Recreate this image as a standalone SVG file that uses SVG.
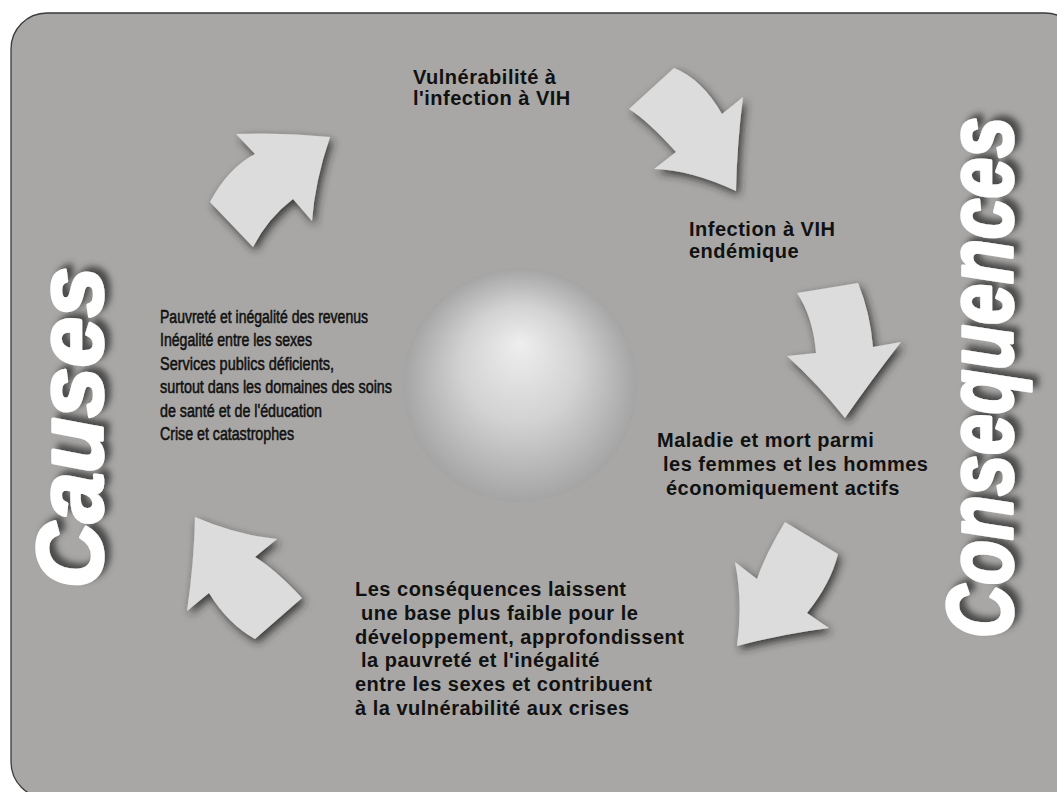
<svg xmlns="http://www.w3.org/2000/svg" width="1057" height="792" viewBox="0 0 1057 792">
  <defs>
    <style>
      .lbl { font-family: "Liberation Sans", Arial, sans-serif; font-weight: bold; font-size: 20px; letter-spacing: 0.5px; fill: #111; }
      .cause { font-family: "Liberation Sans", Arial, sans-serif; font-size: 18px; fill: #111; stroke: #111; stroke-width: 0.55px; }
      .big { font-family: "Liberation Sans", Arial, sans-serif; font-weight: bold; font-style: italic; font-size: 80px; fill: #ffffff; stroke: #ffffff; stroke-width: 3px; stroke-linejoin: round; }
      .arrow { fill: #dcdcdc; }
    </style>
    <filter id="arrowShadow" x="-30%" y="-30%" width="160%" height="160%">
      <feGaussianBlur in="SourceAlpha" stdDeviation="4.5"/>
      <feOffset dx="3" dy="4" result="b"/>
      <feFlood flood-color="#252525" flood-opacity="0.85"/>
      <feComposite in2="b" operator="in"/>
      <feMerge><feMergeNode/><feMergeNode in="SourceGraphic"/></feMerge>
    </filter>
    <filter id="textShadow" x="-30%" y="-10%" width="160%" height="120%">
      <feGaussianBlur in="SourceAlpha" stdDeviation="3"/>
      <feOffset dx="6" dy="-5" result="b"/>
      <feFlood flood-color="#3a3a3a" flood-opacity="0.85"/>
      <feComposite in2="b" operator="in"/>
      <feMerge><feMergeNode/><feMergeNode in="SourceGraphic"/></feMerge>
    </filter>
    <radialGradient id="sphereGrad" cx="0.5" cy="0.5" r="0.5" fx="0.5" fy="0.32">
      <stop offset="0" stop-color="#eeeeee"/>
      <stop offset="0.5" stop-color="#d2d2d2"/>
      <stop offset="1" stop-color="#a4a4a4"/>
    </radialGradient>
  </defs>

  <rect id="background" x="11" y="13" width="1070" height="785" rx="36" ry="36" fill="#a8a7a5" stroke="#3a3a3a" stroke-width="1.3"/>

  <g id="sphere">
    <circle cx="520" cy="385" r="117" fill="url(#sphereGrad)"/>
  </g>

  <g id="connectors" filter="url(#arrowShadow)">
    <path id="arrow1" class="arrow" d="M330,137 Q315,181 312,221 L293,199 Q268,218 253,247 L210,202 Q228,168 255,154 L236,134 Q283,132 330,137 Z"/>
    <path id="arrow2" class="arrow" d="M674,68 Q702,79 722,114 L743,97 Q737,144 736,191 Q691,170 654,169 L676,152 Q647,120 629,109 Z"/>
    <path id="arrow3" class="arrow" d="M797,293 L858,283 Q870,312 873,347 L901,342 Q870,382 845,418 Q818,384 787,356 L816,353 Q813,317 797,293 Z"/>
    <path id="arrow4" class="arrow" d="M785,522 L838,554 Q831,583 807,613 L829,628 Q783,634 737,646 Q743,603 735,562 L757,579 Q766,553 785,522 Z"/>
    <path id="arrow5" class="arrow" d="M195,517 Q237,535 277,539 L255,557 Q275,569 302,598 L255,639 Q228,624 209,593 L187,611 Q194,563 195,517 Z"/>
  </g>

  <g id="node-vulnerabilite">
    <text class="lbl" x="413" y="84">Vulnérabilité à</text>
    <text class="lbl" x="413" y="105">l'infection à VIH</text>
  </g>

  <g id="node-infection">
    <text class="lbl" x="689" y="236">Infection à VIH</text>
    <text class="lbl" x="689" y="258">endémique</text>
  </g>

  <g id="node-maladie">
    <text class="lbl" x="657" y="447">Maladie et mort parmi</text>
    <text class="lbl" x="663" y="471">les femmes et les hommes</text>
    <text class="lbl" x="666" y="495">économiquement actifs</text>
  </g>

  <g id="node-consequences-text">
    <text class="lbl" x="355" y="596">Les conséquences laissent</text>
    <text class="lbl" x="361" y="620">une base plus faible pour le</text>
    <text class="lbl" x="355" y="644">développement, approfondissent</text>
    <text class="lbl" x="361" y="667">la pauvreté et l'inégalité</text>
    <text class="lbl" x="355" y="691">entre les sexes et contribuent</text>
    <text class="lbl" x="355" y="715">à la vulnérabilité aux crises</text>
  </g>

  <g id="node-causes-list">
    <text class="cause" x="160" y="323" textLength="208" lengthAdjust="spacingAndGlyphs">Pauvreté et inégalité des revenus</text>
    <text class="cause" x="160" y="346.4" textLength="152" lengthAdjust="spacingAndGlyphs">Inégalité entre les sexes</text>
    <text class="cause" x="160" y="369.8" textLength="174" lengthAdjust="spacingAndGlyphs">Services publics déficients,</text>
    <text class="cause" x="160" y="393.2" textLength="232" lengthAdjust="spacingAndGlyphs">surtout dans les domaines des soins</text>
    <text class="cause" x="160" y="416.6" textLength="162" lengthAdjust="spacingAndGlyphs">de santé et de l'éducation</text>
    <text class="cause" x="160" y="440" textLength="134" lengthAdjust="spacingAndGlyphs">Crise et catastrophes</text>
  </g>

  <g id="title-causes" filter="url(#textShadow)">
    <text class="big" transform="translate(102,588) rotate(-90) scale(1,1.15)" x="0" y="0" textLength="321" lengthAdjust="spacingAndGlyphs">Causes</text>
  </g>

  <g id="title-consequences" filter="url(#textShadow)">
    <text class="big" transform="translate(1012,638) rotate(-90) scale(1,1.15)" x="0" y="0" textLength="521" lengthAdjust="spacingAndGlyphs">Consequences</text>
  </g>
</svg>
